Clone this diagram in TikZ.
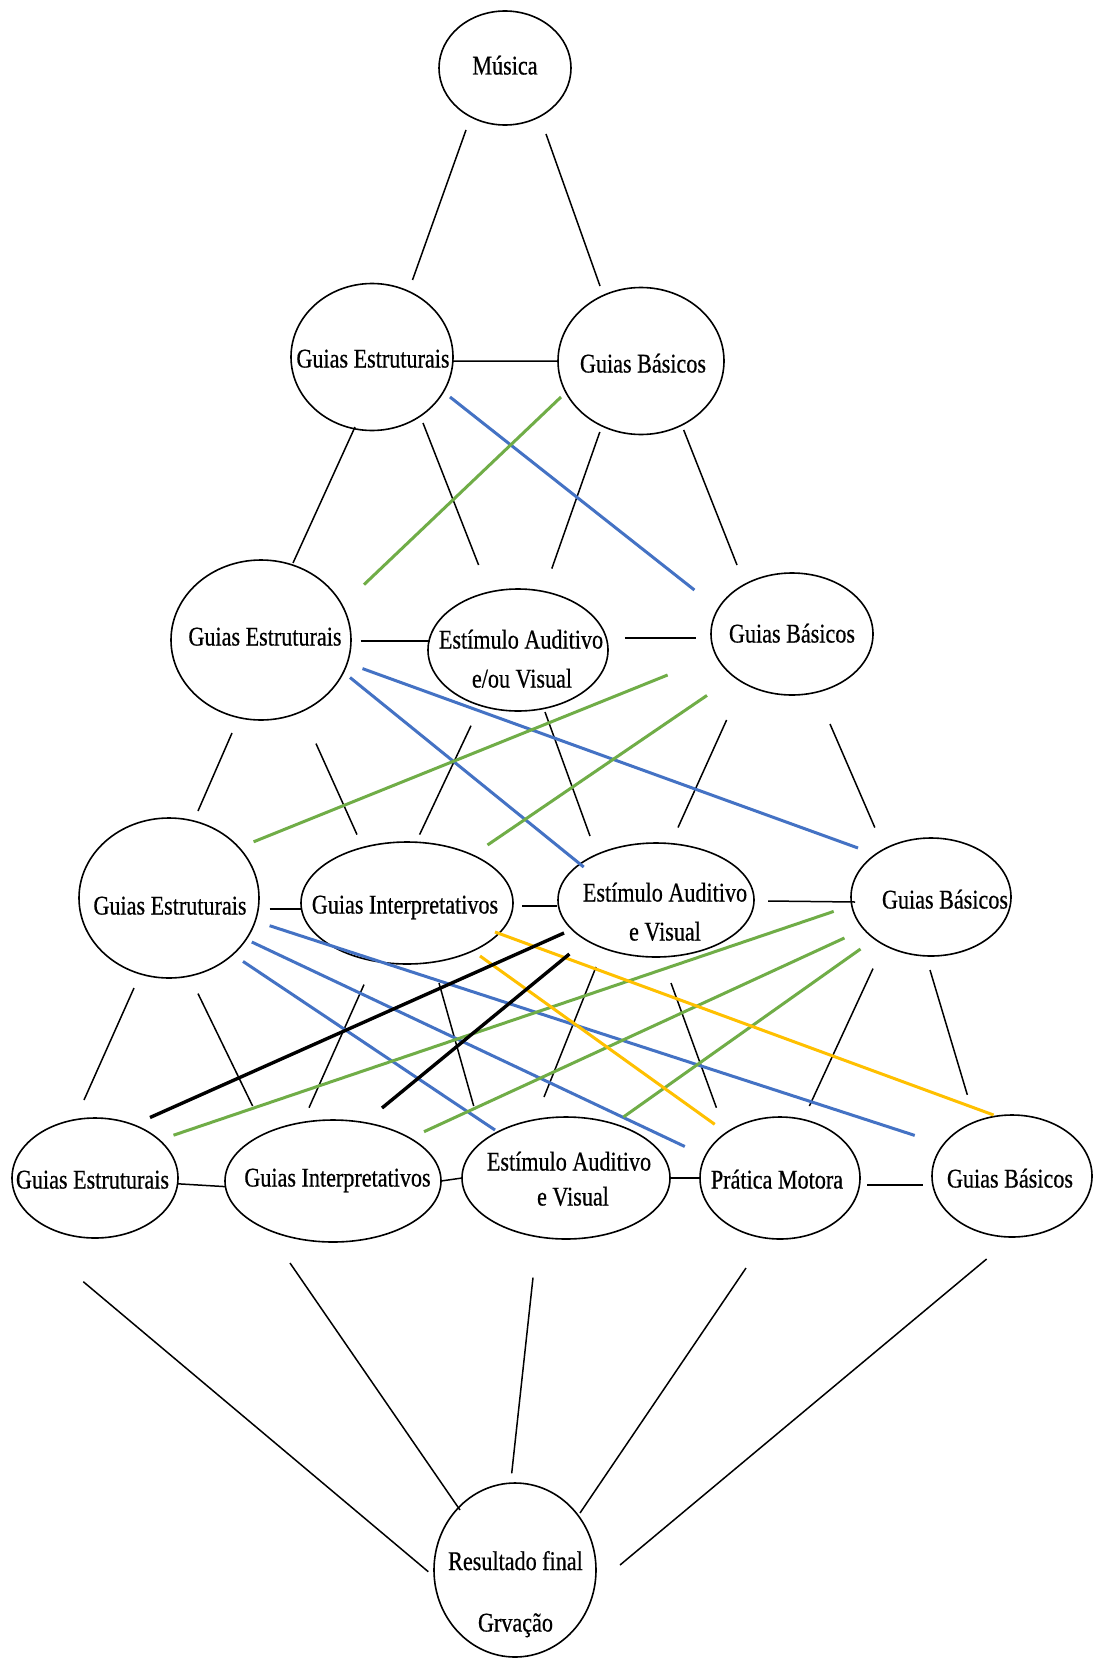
\documentclass[tikz,border=0pt]{standalone}
\usepackage{fontspec}
\usetikzlibrary{shapes.geometric}
\newfontfamily\guidefont{Liberation Serif}[FakeStretch=0.82, FakeBold=0.6]
\definecolor{linkblue}{HTML}{4472C4}
\definecolor{linkgreen}{HTML}{70AD47}
\definecolor{linkyellow}{HTML}{FFC000}
\tikzset{
    bubble/.style={ellipse, draw, line width=1.6pt, inner sep=0pt, outer sep=0pt},
    caption/.style={font=\fontsize{27}{30}\guidefont, anchor=base, inner sep=0pt},
    link/.style={line width=1.5pt},
    bluelink/.style={line width=3pt, linkblue},
    greenlink/.style={line width=3pt, linkgreen},
    yellowlink/.style={line width=3pt, linkyellow},
    boldlink/.style={line width=3.4pt, black},
}
\begin{document}
\begin{tikzpicture}[x=1pt, y=-1pt]
        \useasboundingbox [fill=white] (0, 0) rectangle (1096, 1659);
        \node [bubble, minimum width=132, minimum height=114] (mus) at (505, 68) {};
        \node [bubble, minimum width=162, minimum height=147] (ge1) at (372, 357) {};
        \node [bubble, minimum width=166, minimum height=147] (gb1) at (641, 361) {};
        \node [bubble, minimum width=180, minimum height=160] (ge2) at (261, 640) {};
        \node [bubble, minimum width=180, minimum height=122] (eav2) at (518, 650) {};
        \node [bubble, minimum width=162, minimum height=122] (gb2) at (792, 634) {};
        \node [bubble, minimum width=180, minimum height=160] (ge3) at (169, 898) {};
        \node [bubble, minimum width=212, minimum height=122] (gi3) at (407, 903) {};
        \node [bubble, minimum width=196, minimum height=114] (eav3) at (656, 900) {};
        \node [bubble, minimum width=160, minimum height=118] (gb3) at (931, 897) {};
        \node [bubble, minimum width=166, minimum height=120] (ge4) at (95, 1178) {};
        \node [bubble, minimum width=216, minimum height=122] (gi4) at (333, 1181) {};
        \node [bubble, minimum width=208, minimum height=122] (eav4) at (566, 1178) {};
        \node [bubble, minimum width=160, minimum height=122] (pm4) at (780, 1178) {};
        \node [bubble, minimum width=160, minimum height=122] (gb4) at (1012, 1176) {};
        \node [bubble, minimum width=162, minimum height=174] (rf) at (515, 1570) {};

        \node [caption] (mus-t) at (505, 74.5) {Música};
        \node [caption] (ge1-t) at (373, 367.5) {Guias Estruturais};
        \node [caption] (gb1-t) at (643, 372.5) {Guias Básicos};
        \node [caption] (ge2-t) at (265, 645.5) {Guias Estruturais};
        \node [caption] (eav2-t1) at (521, 648.5) {Estímulo Auditivo};
        \node [caption] (eav2-t2) at (522, 687.5) {e/ou Visual};
        \node [caption] (gb2-t) at (792, 642.5) {Guias Básicos};
        \node [caption] (ge3-t) at (170, 914.5) {Guias Estruturais};
        \node [caption] (gi3-t) at (405, 913.5) {Guias Interpretativos};
        \node [caption] (eav3-t1) at (665, 901.5) {Estímulo Auditivo};
        \node [caption] (eav3-t2) at (665, 940.5) {e Visual};
        \node [caption] (gb3-t) at (945, 908.5) {Guias Básicos};
        \node [caption] (ge4-t) at (92.5, 1188.5) {Guias Estruturais};
        \node [caption] (gi4-t) at (337.5, 1186.5) {Guias Interpretativos};
        \node [caption] (eav4-t1) at (569, 1170.5) {Estímulo Auditivo};
        \node [caption] (eav4-t2) at (573, 1205.5) {e Visual};
        \node [caption] (pm4-t) at (777, 1188.5) {Prática Motora};
        \node [caption] (gb4-t) at (1010, 1187.5) {Guias Básicos};
        \node [caption] (rf-t1) at (515.5, 1570) {Resultado final};
        \node [caption] (rf-t2) at (515.5, 1631.5) {Grvação};

        \path [link] ([shift={(-39,62)}]mus.center) edge ([shift={(40.5,-77)}]ge1.center);
        \path [link] ([shift={(41,66)}]mus.center) edge ([shift={(-41,-75)}]gb1.center);
        \path [link] (ge1.357) edge (gb1.west);
        \path [link] ([shift={(-17,70)}]ge1.center) edge ([shift={(32,-77)}]ge2.center);
        \path [link] ([shift={(51,66)}]ge1.center) edge ([shift={(-39.4,-85)}]eav2.center);
        \path [link] ([shift={(-41.2,71)}]gb1.center) edge ([shift={(33.8,-81.4)}]eav2.center);
        \path [link] ([shift={(42.7,69)}]gb1.center) edge ([shift={(-55,-69)}]gb2.center);
        \path [link] ([shift={(99.7,1)}]ge2.center) edge ([shift={(-88,-9)}]eav2.center);
        \path [link] ([shift={(106.8,-12)}]eav2.center) edge ([shift={(-96,4)}]gb2.center);
        \path [link] ([shift={(-29,93)}]ge2.center) edge ([shift={(29,-87)}]ge3.center);
        \path [link] ([shift={(55,103.6)}]ge2.center) edge ([shift={(-50,-68.4)}]gi3.center);
        \path [link] ([shift={(-47,75.7)}]eav2.center) edge ([shift={(12.6,-68.4)}]gi3.center);
        \path [link] ([shift={(27,62)}]eav2.center) edge ([shift={(-66,-64)}]eav3.center);
        \path [link] ([shift={(-65.4,86)}]gb2.center) edge ([shift={(22,-72.5)}]eav3.center);
        \path [link] ([shift={(38,90)}]gb2.center) edge ([shift={(-56.2,-69.5)}]gb3.center);
        \path [link] ([shift={(100.6,11)}]ge3.center) edge ([shift={(-105.2,6)}]gi3.center);
        \path [link] ([shift={(115,3)}]gi3.center) edge ([shift={(-99,6)}]eav3.center);
        \path [link] ([shift={(112,1)}]eav3.center) edge ([shift={(-76,5)}]gb3.center);
        \path [link] ([shift={(-35,90)}]ge3.center) edge ([shift={(-11,-78)}]ge4.center);
        \path [link] ([shift={(29,95.6)}]ge3.center) edge ([shift={(-80.4,-75)}]gi4.center);
        \path [link] ([shift={(-43,81.6)}]gi3.center) edge ([shift={(-24,-73.3)}]gi4.center);
        \path [link] ([shift={(32,80)}]gi3.center) edge ([shift={(-92.3,-72)}]eav4.center);
        \path [link] ([shift={(-60,67)}]eav3.center) edge ([shift={(-22,-81)}]eav4.center);
        \path [link] ([shift={(15,83)}]eav3.center) edge ([shift={(-63.6,-70.3)}]pm4.center);
        \path [link] ([shift={(-58,71.6)}]gb3.center) edge ([shift={(29.4,-72)}]pm4.center);
        \path [link] ([shift={(-1,73)}]gb3.center) edge ([shift={(-44.7,-81.2)}]gb4.center);
        \path [link] (ge4.356) edge (gi4.183);
        \path [link] (gi4.east) edge (eav4.west);
        \path [link] (eav4.east) edge (pm4.west);
        \path [link] ([shift={(87.3,7)}]pm4.center) edge ([shift={(-88.6,9)}]gb4.center);
        \path [link] ([shift={(-11.7,103.7)}]ge4.center) edge ([shift={(-86.7,1.7)}]rf.center);
        \path [link] ([shift={(-43,82)}]gi4.center) edge ([shift={(-55,-60)}]rf.center);
        \path [link] ([shift={(-33,99.6)}]eav4.center) edge ([shift={(-3.3,-96.7)}]rf.center);
        \path [link] ([shift={(-34,90)}]pm4.center) edge ([shift={(65,-57)}]rf.center);
        \path [link] ([shift={(-25.4,83)}]gb4.center) edge ([shift={(105,-5)}]rf.center);

        \path [bluelink] ([shift={(78,40)}]ge1.center) edge ([shift={(-97.6,-44)}]gb2.center);
        \path [bluelink] ([shift={(101.5,28.6)}]ge2.center) edge ([shift={(-73,-49)}]gb3.center);
        \path [bluelink] ([shift={(89,37.5)}]ge2.center) edge ([shift={(-72.3,-33)}]eav3.center);
        \path [bluelink] ([shift={(100.6,27.7)}]ge3.center) edge ([shift={(-97.3,-40.6)}]gb4.center);
        \path [bluelink] ([shift={(82.8,44)}]ge3.center) edge ([shift={(-95.2,-31.5)}]pm4.center);
        \path [bluelink] ([shift={(74,63.4)}]ge3.center) edge ([shift={(-71,-48)}]eav4.center);

        \path [greenlink] ([shift={(-80,36)}]gb1.center) edge ([shift={(103,-55.4)}]ge2.center);
        \path [greenlink] ([shift={(-124.4,41)}]gb2.center) edge ([shift={(84.6,-56.2)}]ge3.center);
        \path [greenlink] ([shift={(-85,61.4)}]gb2.center) edge ([shift={(80.5,-58)}]gi3.center);
        \path [greenlink] ([shift={(-97.3,14.4)}]gb3.center) edge ([shift={(78.5,-42.8)}]ge4.center);
        \path [greenlink] ([shift={(-86.6,41)}]gb3.center) edge ([shift={(91,-49.3)}]gi4.center);
        \path [greenlink] ([shift={(-70.5,52)}]gb3.center) edge ([shift={(57.4,-61)}]eav4.center);

        \path [yellowlink] ([shift={(88,29)}]gi3.center) edge ([shift={(-18.4,-61)}]gb4.center);
        \path [yellowlink] ([shift={(73,53)}]gi3.center) edge ([shift={(-65.3,-53.7)}]pm4.center);

        \path [boldlink] ([shift={(-92,33)}]eav3.center) edge ([shift={(55,-60.5)}]ge4.center);
        \path [boldlink] ([shift={(-86.6,54)}]eav3.center) edge ([shift={(49,-73)}]gi4.center);
    \end{tikzpicture}
\end{document}
